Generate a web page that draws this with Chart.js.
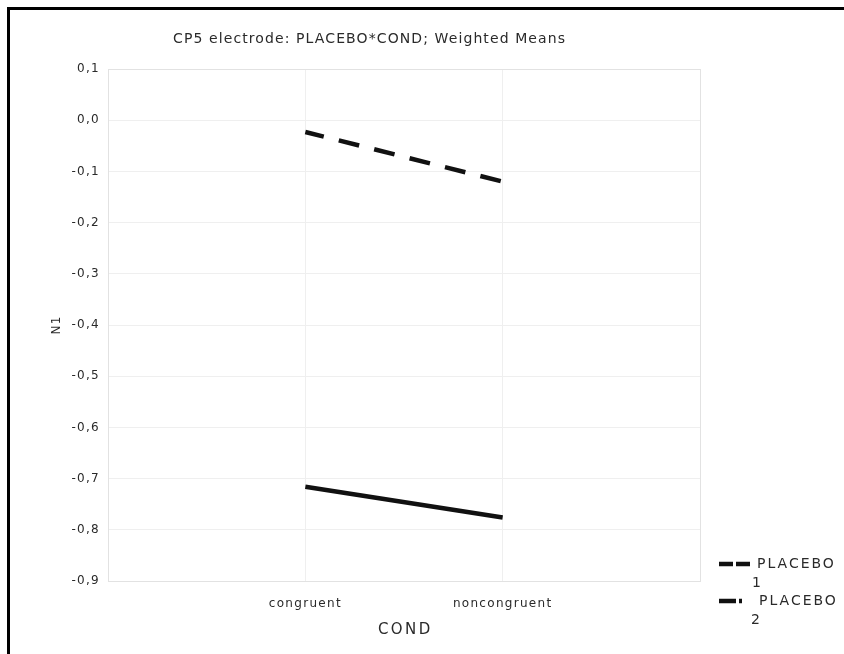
<!DOCTYPE html>
<html>
<head>
<meta charset="utf-8">
<script src="https://cdn.jsdelivr.net/npm/chart.js@4/dist/chart.umd.min.js"></script>
<style>
  html, body { margin: 0; padding: 0; background: #fff; }
  #wrap { position: relative; width: 844px; height: 654px; overflow: hidden; }
  #frame { position: absolute; left: 7px; top: 7px; width: 900px; height: 700px;
           border-top: 3px solid #000; border-left: 3px solid #000; }
  canvas { position: absolute; left: 0; top: 0; }
</style>
</head>
<body>
<div id="wrap">
  <div id="frame"></div>
  <canvas id="c" width="844" height="654"></canvas>
</div>
<script>
const titleText = "CP5 electrode: PLACEBO*COND; Weighted Means";
const categories = ["congruent", "noncongruent"];
const seriesNames = ["PLACEBO", "PLACEBO"];
const seriesLevels = ["1", "2"];
const placebo1 = [-0.023, -0.120];
const placebo2 = [-0.716, -0.776];
const yTicks = [0.1, 0.0, -0.1, -0.2, -0.3, -0.4, -0.5, -0.6, -0.7, -0.8, -0.9];
const xAxisTitle = "COND";
const yAxisTitle = "N1";

const FONT = "'DejaVu Sans', sans-serif";
const TXT = "#2a2a2a";

function toPoints(vals) {
  return vals.map((v, i) => ({ x: i + 1, y: v }));
}

const spacingPlugin = {
  id: 'spacing',
  beforeDraw(chart) { chart.ctx.letterSpacing = '1.3px'; },
  beforeDatasetsDraw(chart) {
    const { ctx, chartArea: a } = chart;
    ctx.save();
    ctx.strokeStyle = '#e2e2e2';
    ctx.lineWidth = 1;
    ctx.strokeRect(a.left + 0.5, a.top + 0.5, a.right - a.left, a.bottom - a.top);
    ctx.restore();
  },
  afterDraw(chart) {
    const ctx = chart.ctx;
    ctx.save();
    ctx.fillStyle = TXT;
    ctx.textBaseline = 'middle';
    ctx.textAlign = 'left';
    // title
    ctx.letterSpacing = '1.1px';
    ctx.font = "14px " + FONT;
    ctx.fillText(titleText, 173, 39);
    // x axis title
    ctx.letterSpacing = '2.4px';
    ctx.font = "15px " + FONT;
    ctx.fillText(xAxisTitle, 378, 630);
    // legend
    ctx.letterSpacing = '2px';
    ctx.font = "14px " + FONT;
    ctx.strokeStyle = '#111';
    ctx.lineWidth = 4.5;
    ctx.lineCap = 'butt';
    ctx.setLineDash([14, 3]);
    ctx.beginPath(); ctx.moveTo(719, 564); ctx.lineTo(750, 564); ctx.stroke();
    ctx.setLineDash([17, 3, 3, 20]);
    ctx.beginPath(); ctx.moveTo(719, 601); ctx.lineTo(742, 601); ctx.stroke();
    ctx.setLineDash([]);
    ctx.fillText(seriesNames[0], 757, 564);
    ctx.fillText(seriesLevels[0], 752, 583);
    ctx.fillText(seriesNames[1], 759, 601);
    ctx.fillText(seriesLevels[1], 751, 620);
    ctx.restore();
  }
};

new Chart(document.getElementById('c'), {
  type: 'line',
  data: {
    datasets: [
      {
        label: seriesNames[0] + " " + seriesLevels[0],
        data: toPoints(placebo1),
        borderColor: '#111',
        borderWidth: 4.5,
        borderDash: [21, 15.5],
        borderDashOffset: 2,
        pointRadius: 0,
        fill: false
      },
      {
        label: seriesNames[1] + " " + seriesLevels[1],
        data: toPoints(placebo2),
        borderColor: '#111',
        borderWidth: 4.5,
        pointRadius: 0,
        fill: false
      }
    ]
  },
  options: {
    responsive: false,
    animation: false,
    devicePixelRatio: 1,
    layout: { padding: { top: 69, right: 144, bottom: 0, left: 0 } },
    plugins: { legend: { display: false }, title: { display: false }, tooltip: { enabled: false } },
    scales: {
      x: {
        type: 'linear',
        min: 0, max: categories.length + 1,
        afterFit(s) { s.height = 73; },
        afterBuildTicks(s) { s.ticks = [0, 1, 2, 3].map(v => ({ value: v })); },
        ticks: {
          padding: 16,
          color: TXT,
          font: { family: FONT, size: 12 },
          maxRotation: 0,
          autoSkip: false,
          callback: (v) => categories[v - 1] || ''
        },
        grid: { color: '#efefef', drawTicks: false },
        border: { display: false },
        title: { display: false }
      },
      y: {
        min: -0.9, max: 0.1,
        afterFit(s) { s.width = 108; },
        afterBuildTicks(s) { s.ticks = yTicks.map(v => ({ value: v })); },
        ticks: {
          padding: 8,
          color: TXT,
          font: { family: FONT, size: 12 },
          callback: (v) => v.toFixed(1).replace('.', ',').replace('-0,0', '0,0')
        },
        grid: { color: '#efefef', drawTicks: false },
        border: { display: false },
        title: {
          display: true, text: yAxisTitle, color: TXT,
          font: { family: FONT, size: 12 },
          padding: { top: 50, bottom: 50 }
        }
      }
    }
  },
  plugins: [spacingPlugin]
});
</script>
</body>
</html>
